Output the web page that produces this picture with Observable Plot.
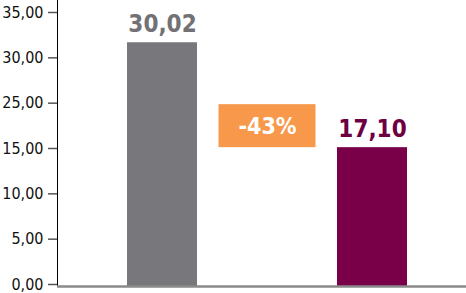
<!DOCTYPE html>
<html>
<head>
<meta charset="utf-8">
<script src="https://cdn.jsdelivr.net/npm/d3@7"></script>
<script src="https://cdn.jsdelivr.net/npm/@observablehq/plot@0.6"></script>
<style>
  html, body { margin: 0; padding: 0; background: #fff; }
  #chart { width: 466px; height: 293px; }
  #chart svg text { font-stretch: condensed; }
</style>
</head>
<body>
<div id="chart"></div>
<script>
// ---- data ----
const categories = ["before", "change", "after"];
const barCategories = ["before", "after"];
const barValues = [30.02, 17.10];
const barColors = ["#78777c", "#790048"];
const labelColors = ["#727175", "#6c0041"];
const tickLabels = ["0,00", "5,00", "10,00", "15,00", "25,00", "30,00", "35,00"];
const yMax = 33.5;

// ---- derived ----
const bars = barCategories.map((c, i) => ({cat: c, value: barValues[i], color: barColors[i], labelColor: labelColors[i]}));
const fmt = d3.formatLocale({decimal: ",", thousands: ".", grouping: [3], currency: ["", ""], minus: "-"}).format(".2f");
const pct = Math.round((barValues[1] / barValues[0] - 1) * 100);
const changeRow = [{cat: "change", value: barValues[1], label: `${pct}%`}];
const step = yMax / (tickLabels.length - 1);
const tickValues = tickLabels.map((_, i) => i * step);
const tickMap = new Map(tickValues.map((v, i) => [v, tickLabels[i]]));

const font = "'DejaVu Sans Condensed', 'DejaVu Sans', sans-serif";

const chart = Plot.plot({
  width: 466,
  height: 293,
  marginLeft: 57,
  marginRight: 0,
  marginTop: 0,
  marginBottom: 7,
  style: {fontFamily: font, background: "#fff", overflow: "visible"},
  x: {domain: categories, range: [57, 466], paddingInner: 0.333, paddingOuter: 0.614, align: 0.543, axis: null},
  y: {domain: [0, yMax], insetTop: 14, axis: null},
  marks: [
    Plot.frame({anchor: "left", stroke: "#000", strokeWidth: 1}),
    Plot.axisY({
      ticks: tickValues,
      tickFormat: d => tickMap.get(d),
      label: null,
      tickSize: 9,
      tickPadding: 5,
      fontSize: 16,
      fill: "#111",
      stroke: "#555",
      strokeWidth: 1.5,
      textStroke: "none",
      dy: -2
    }),
    Plot.barY(bars, {x: "cat", y: "value", fill: "color"}),
    Plot.barY(changeRow, {x: "cat", y1: "value", y2: "value", fill: "#f7984a", insetTop: -43, insetLeft: -13.5, insetRight: -13.5}),
    Plot.text(changeRow, {x: "cat", y: "value", text: "label", dy: -21.5, lineAnchor: "middle", fill: "#fff", fontSize: 23, fontWeight: "bold"}),
    Plot.text(bars, {x: "cat", y: "value", text: d => fmt(d.value), dy: -11, lineAnchor: "bottom", fill: "labelColor", fontSize: 24, fontWeight: "bold"}),
    Plot.ruleY([0], {stroke: "#8a8a8a", strokeWidth: 2.5})
  ]
});
document.getElementById("chart").appendChild(chart);
</script>
</body>
</html>
